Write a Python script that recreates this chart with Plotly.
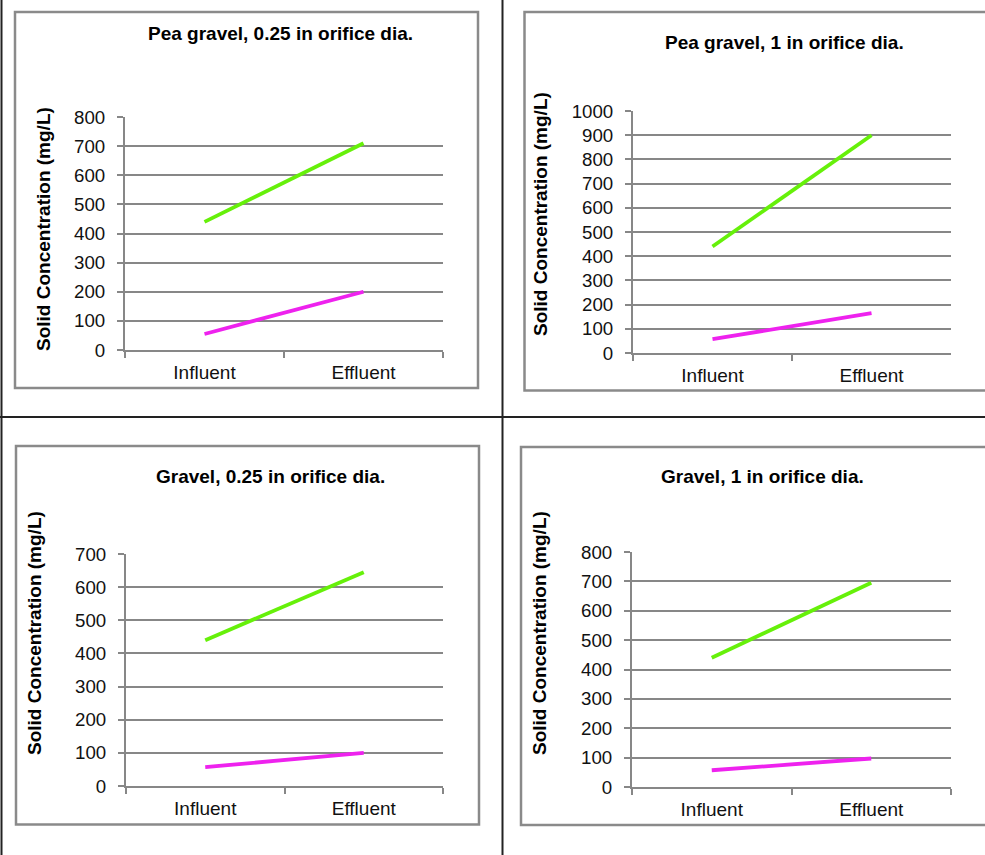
import plotly.graph_objects as go

# ---- data -------------------------------------------------------------
categories = ["Influent", "Effluent"]

titles = [
    "Pea gravel, 0.25 in orifice dia.",
    "Pea gravel, 1 in orifice dia.",
    "Gravel, 0.25 in orifice dia.",
    "Gravel, 1 in orifice dia.",
]

pea_025_upper = [440, 710]
pea_025_lower = [55, 200]
pea_1_upper = [440, 900]
pea_1_lower = [57, 165]
gravel_025_upper = [440, 645]
gravel_025_lower = [57, 100]
gravel_1_upper = [440, 695]
gravel_1_lower = [57, 97]

y_max = [800, 1000, 700, 800]
y_title = "Solid Concentration (mg/L)"

# ---- layout helpers (pixel geometry of the 985x855 page) --------------
W, H = 985, 855
FONT = "Liberation Sans, Arial, sans-serif"
GRID = "#878787"
UPPER_COLOR = "#66F00A"
LOWER_COLOR = "#EE22EE"


def px(x):
    return x / W


def py(y):
    return 1 - y / H


# plot areas: (left, right, top, bottom) in pixels
areas = [
    (125, 443, 117, 350),
    (633, 951, 111, 353),
    (126, 443, 554, 786),
    (632, 951, 552, 787),
]
# chart frames: (left, right, top, bottom)
frames = [
    (15, 478, 12, 388),
    (524.5, 995, 12, 390.5),
    (16, 479, 446, 824.5),
    (521, 995, 447, 825),
]
title_pos = [(280, 33), (784, 42), (270, 477), (762, 477)]
ytitle_pos = [(43, 229), (541, 214), (34, 633), (539, 633)]

series = [
    (pea_025_upper, pea_025_lower),
    (pea_1_upper, pea_1_lower),
    (gravel_025_upper, gravel_025_lower),
    (gravel_1_upper, gravel_1_lower),
]

fig = go.Figure()
shapes = []
annotations = []

# table cell rules
shapes.append(dict(type="line", xref="paper", yref="paper", x0=px(1.5), x1=px(1.5),
                   y0=0, y1=1, line=dict(color="#222222", width=2)))
shapes.append(dict(type="line", xref="paper", yref="paper", x0=px(502.5), x1=px(502.5),
                   y0=0, y1=1, line=dict(color="#222222", width=2)))
shapes.append(dict(type="line", xref="paper", yref="paper", x0=0, x1=1,
                   y0=py(417), y1=py(417), line=dict(color="#222222", width=2)))

for i in range(4):
    n = i + 1
    xa = "x" if n == 1 else f"x{n}"
    ya = "y" if n == 1 else f"y{n}"
    upper, lower = series[i]
    fig.add_trace(go.Scatter(x=categories, y=upper, mode="lines", name="Series1",
                             line=dict(color=UPPER_COLOR, width=3.8),
                             xaxis=xa, yaxis=ya, showlegend=False))
    fig.add_trace(go.Scatter(x=categories, y=lower, mode="lines", name="Series2",
                             line=dict(color=LOWER_COLOR, width=3.8),
                             xaxis=xa, yaxis=ya, showlegend=False))

    l, r, t, b = areas[i]
    xkey = "xaxis" if n == 1 else f"xaxis{n}"
    ykey = "yaxis" if n == 1 else f"yaxis{n}"
    fig.update_layout({
        xkey: dict(
            domain=[px(l), px(r)], anchor=ya, type="category",
            categoryorder="array", categoryarray=categories,
            range=[-0.5, 1.5], showgrid=False, zeroline=False,
            showline=True, linecolor=GRID, linewidth=2,
            ticks="outside", tickson="boundaries", ticklen=6,
            tickcolor=GRID, tickwidth=2, ticklabelstandoff=4,
            automargin=False,
            tickfont=dict(family=FONT, size=19, color="#111111"),
        ),
        ykey: dict(
            domain=[py(b), py(t)], anchor=xa, range=[0, y_max[i]],
            dtick=100, tick0=0, showgrid=True, gridcolor=GRID, gridwidth=2,
            zeroline=False, showline=True, linecolor=GRID, linewidth=2,
            ticks="outside", ticklen=6, tickcolor=GRID, tickwidth=2,
            ticklabelstandoff=8, automargin=False,
            tickfont=dict(family=FONT, size=18.7, color="#111111"),
        ),
    })

    fl, fr, ft, fb = frames[i]
    shapes.append(dict(type="rect", xref="paper", yref="paper",
                       x0=px(fl), x1=px(fr), y0=py(fb), y1=py(ft),
                       line=dict(color="#8a8a8a", width=2.5), layer="below"))

    tx, ty = title_pos[i]
    annotations.append(dict(text=f"<b>{titles[i]}</b>", xref="paper", yref="paper",
                            x=px(tx), y=py(ty), xanchor="center", yanchor="middle",
                            showarrow=False,
                            font=dict(family=FONT, size=19, color="#000000")))
    ax_, ay_ = ytitle_pos[i]
    annotations.append(dict(text=f"<b>{y_title}</b>", xref="paper", yref="paper",
                            x=px(ax_), y=py(ay_), xanchor="center", yanchor="middle",
                            textangle=-90, showarrow=False,
                            font=dict(family=FONT, size=19, color="#000000")))

fig.update_layout(
    width=W, height=H,
    margin=dict(l=0, r=0, t=0, b=0, pad=0, autoexpand=False),
    paper_bgcolor="white", plot_bgcolor="white",
    shapes=shapes, annotations=annotations,
    showlegend=False,
)

fig.write_html("out.html")
